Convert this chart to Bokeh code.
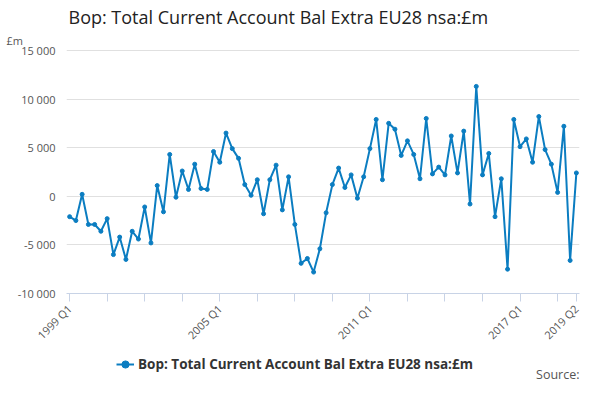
from bokeh.plotting import figure
from bokeh.layouts import column
from bokeh.models import FixedTicker, Label, Legend, LegendItem, CustomJSTickFormatter, Title
from bokeh.embed import file_html
from bokeh.resources import INLINE

values = [-2100, -2500, 200, -2900,
          -2900, -3600, -2300, -6000,
          -4200, -6500, -3600, -4400,
          -1100, -4800, 1100, -1600,
          4300, -100, 2600, 700,
          3300, 800, 700, 4600,
          3500, 6500, 4900, 3900,
          1200, 100, 1700, -1800,
          1700, 3200, -1400, 2000,
          -2900, -6900, -6400, -7800,
          -5400, -1700, 1200, 2900,
          900, 2200, -200, 2000,
          4900, 7900, 1700, 7500,
          6900, 4200, 5700, 4300,
          1800, 8000, 2300, 3000,
          2200, 6200, 2400, 6700,
          -800, 11300, 2200, 4400,
          -2100, 1800, -7500, 7900,
          5100, 5900, 3500, 8200,
          4800, 3300, 400, 7200,
          -6600, 2400]
labels = [f"{1999 + i // 4} Q{i % 4 + 1}" for i in range(len(values))]
shown_labels = ["1999 Q1", "2005 Q1", "2011 Q1", "2017 Q1", "2019 Q2"]
y_ticks = [-10000, -5000, 0, 5000, 10000, 15000]
series_name = "Bop: Total Current Account Bal Extra EU28 nsa:£m"

x = list(range(len(values)))
color = "#0b7dc1"

p = figure(width=584, height=350, output_backend="svg", toolbar_location=None,
           x_range=(-0.5, 81.5), y_range=(-10000, 15300),
           min_border_left=66, min_border_right=5, min_border_top=4,
           min_border_bottom=10)
p.add_layout(Title(text="£m", text_font="Open Sans", text_font_size="11px",
                   text_font_style="normal", text_color="#555555", offset=-60,
                   standoff=0), "above")
p.add_layout(Title(text="Bop: Total Current Account Bal Extra EU28 nsa:£m",
                   text_font="Open Sans", text_font_size="18px",
                   text_font_style="normal", text_color="#222222", offset=2,
                   standoff=4), "above")
p.title.visible = False

r = p.line(x, values, color=color, line_width=2)
c = p.scatter(x, values, color=color, size=4)

tick_pos = list(range(0, 80, 6)) + [81]
p.xaxis.ticker = FixedTicker(ticks=tick_pos)
over = {}
for t in tick_pos:
    over[t] = labels[t] if labels[t] in shown_labels else ""
p.xaxis.major_label_overrides = over
p.xaxis.major_label_orientation = 0.785
p.xaxis.major_label_text_font = "Open Sans"
p.xaxis.major_label_text_font_size = "11px"
p.xaxis.major_label_text_color = "#555555"
p.xaxis.axis_line_color = "#c8d3e6"
p.xaxis.major_tick_line_color = "#c8d3e6"
p.xaxis.major_tick_in = 0
p.xaxis.major_tick_out = 8
p.xaxis.minor_tick_line_color = None
p.xgrid.grid_line_color = None

p.yaxis.ticker = FixedTicker(ticks=y_ticks)
p.yaxis.formatter = CustomJSTickFormatter(code="""
const s = Math.abs(tick).toFixed(0).replace(/\\B(?=(\\d{3})+(?!\\d))/g, ' ');
return (tick < 0 ? '-' : '') + s;""")
p.yaxis.axis_line_color = None
p.yaxis.major_tick_line_color = None
p.yaxis.minor_tick_line_color = None
p.yaxis.major_label_text_font = "Open Sans"
p.yaxis.major_label_text_font_size = "11px"
p.yaxis.major_label_text_color = "#555555"
p.ygrid.grid_line_color = "#e0e0e0"
p.outline_line_color = None

# legend / source strip
q = figure(width=584, height=34, output_backend="svg", toolbar_location=None,
           x_range=(0, 584), y_range=(0, 34), min_border=0)
q.axis.visible = False
q.grid.visible = False
q.outline_line_color = None
lr = q.line([-20, -10], [-20, -20], color=color, line_width=2)
lc = q.scatter([-15], [-20], color=color, size=3)
legend = Legend(items=[LegendItem(label=series_name, renderers=[lr, lc])],
                orientation="horizontal", location=(50, 10),
                label_text_font="Open Sans", label_text_font_size="13.5px",
                label_text_font_style="bold", label_text_color="#333333",
                border_line_color=None, background_fill_alpha=0,
                glyph_width=18, margin=0, padding=2, label_standoff=4)
q.add_layout(legend)
q.add_layout(Label(x=584, y=2, text="Source:", text_align="right",
                   text_font="Open Sans", text_font_size="12.5px", text_color="#555555"))

open("out.html", "w").write(file_html(column(p, q, spacing=0), INLINE))
